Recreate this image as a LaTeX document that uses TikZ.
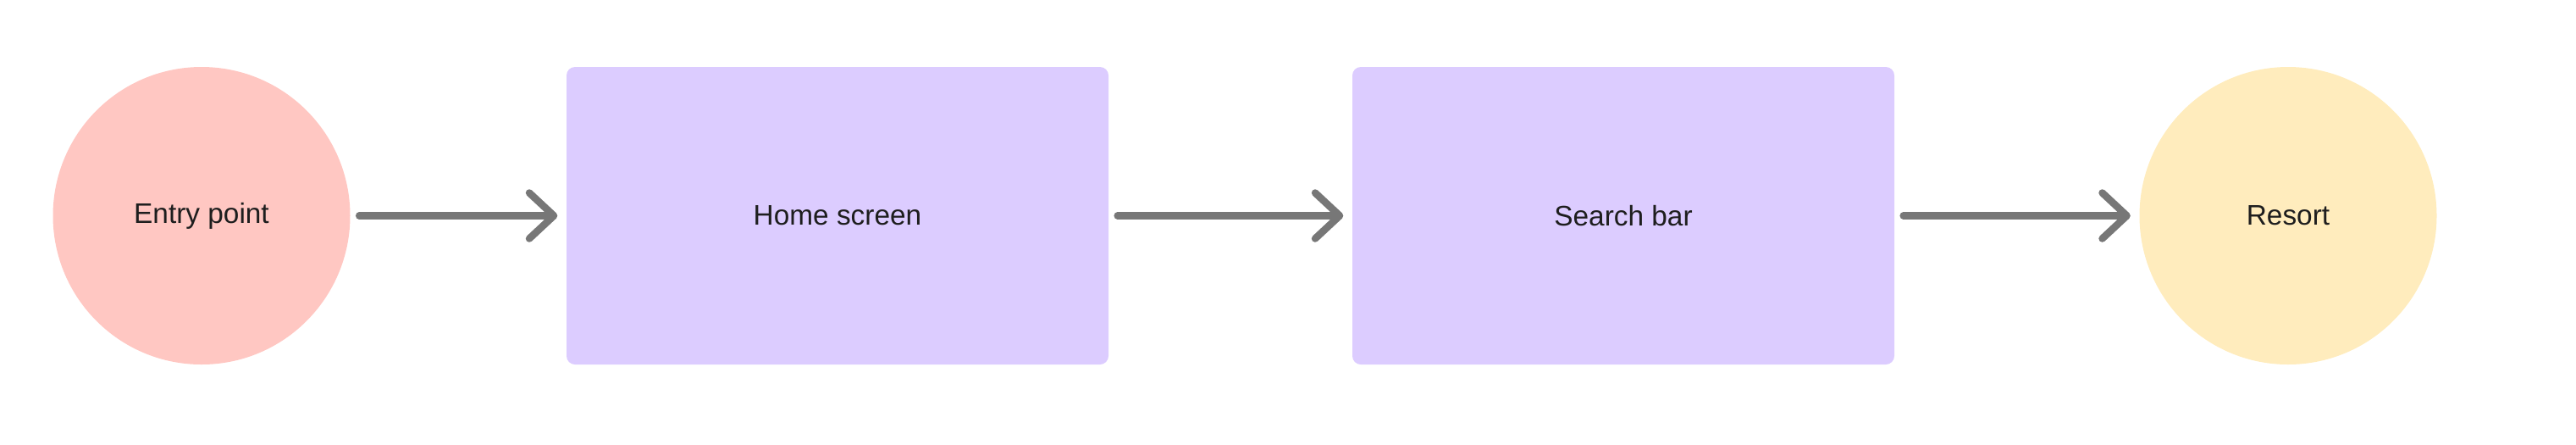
\documentclass[tikz,border=0pt]{standalone}
\usepackage{fontspec}
\setmainfont{Liberation Sans}
\usepackage{tikz}
\usetikzlibrary{arrows.meta}
\definecolor{entrypink}{HTML}{FFC7C2}
\definecolor{screenlilac}{HTML}{DCCCFF}
\definecolor{resortyellow}{HTML}{FFECBD}
\definecolor{flowgray}{HTML}{777777}
\definecolor{labelink}{HTML}{1E1E1E}

\begin{document}
\begin{tikzpicture}[
    endpoint/.style = {circle, minimum size=3.51cm, inner sep=0pt, text=labelink,
      font=\fontsize{9.5}{11}\selectfont},
    screenbox/.style = {rectangle, rounded corners=0.1cm, fill=screenlilac,
      minimum width=6.4cm, minimum height=3.51cm, inner sep=0pt, text=labelink,
      font=\fontsize{9.5}{11}\selectfont},
    flow/.style = {draw=flowgray, line width=0.085cm, line cap=round,
      -{Straight Barb[length=0.29cm, width=0.54cm, round]},
      shorten <=0.1cm, shorten >=0.1cm}
  ]
  \useasboundingbox (0,0) rectangle (30.42,5.24);
  \node[endpoint, fill=entrypink] (entry) at (2.38,2.695) {Entry point};
  \node[screenbox] (home) at (9.89,2.695) {Home screen};
  \node[screenbox] (search) at (19.17,2.695) {Search bar};
  \node[endpoint, fill=resortyellow] (resort) at (27.02,2.695) {Resort};

  \draw[flow] (entry) -- (home);
  \draw[flow] (home) -- (search);
  \draw[flow] (search) -- (resort);
\end{tikzpicture}
\end{document}
